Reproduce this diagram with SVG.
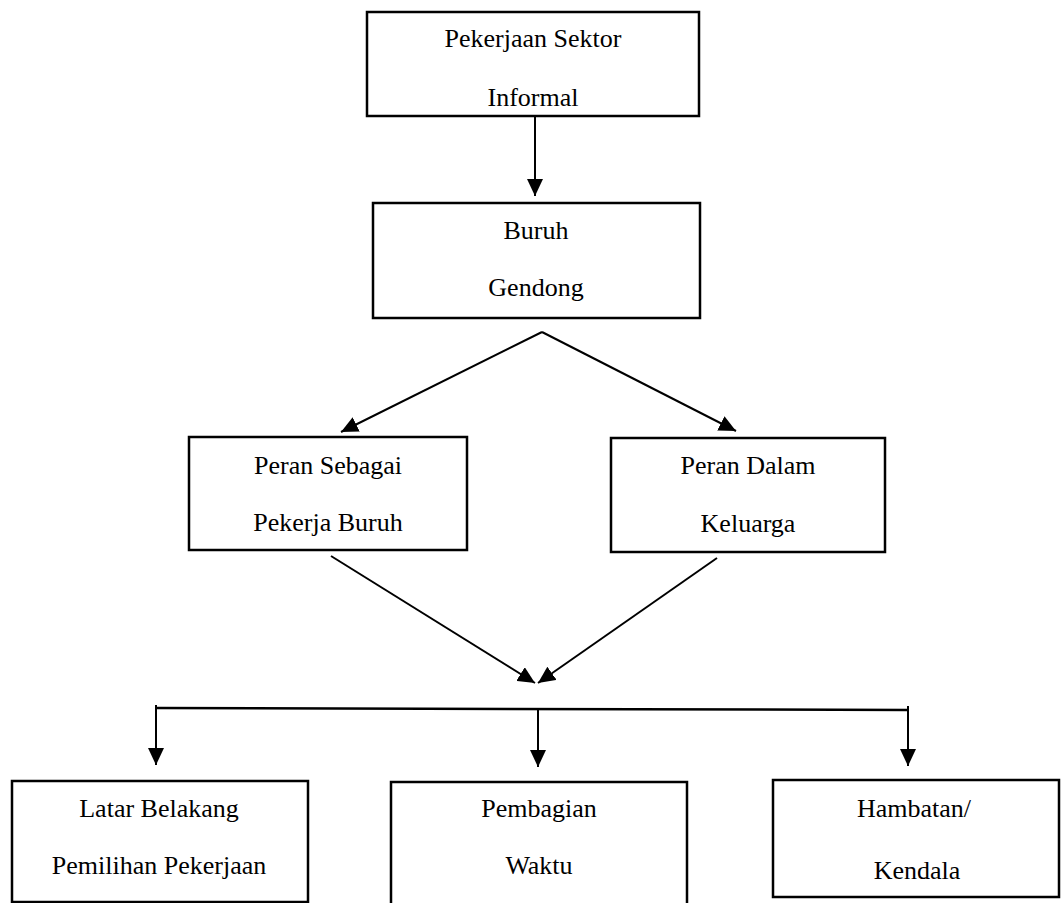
<svg xmlns="http://www.w3.org/2000/svg" width="1062" height="903" viewBox="0 0 1062 903">
<defs>
<style>
.box{fill:#fff;stroke:#000;stroke-width:2.5}
.t{font-family:"Liberation Serif","Times New Roman",serif;font-size:26px;fill:#000;text-anchor:middle}
.c{stroke:#000;stroke-width:2;fill:none}
</style>
<marker id="ah" markerUnits="userSpaceOnUse" markerWidth="18" markerHeight="16" refX="17" refY="8" orient="auto">
<path d="M0,0 L17,8 L0,16 z" fill="#000"/>
</marker>
</defs>
<rect width="1062" height="903" fill="#fff"/>
<g id="connectors">
<line class="c" x1="535" y1="117" x2="535" y2="196" marker-end="url(#ah)"/>
<line class="c" x1="542" y1="332" x2="341" y2="432" marker-end="url(#ah)"/>
<line class="c" x1="542" y1="332" x2="736" y2="431" marker-end="url(#ah)"/>
<line class="c" x1="331" y1="556" x2="535" y2="683" marker-end="url(#ah)"/>
<line class="c" x1="717" y1="558" x2="538" y2="683" marker-end="url(#ah)"/>
<polyline class="c" points="157,708 908,710" style="stroke-width:2.5"/>
<line class="c" x1="156" y1="705" x2="156" y2="765" marker-end="url(#ah)"/>
<line class="c" x1="538" y1="708" x2="538" y2="767" marker-end="url(#ah)"/>
<line class="c" x1="908" y1="706" x2="908" y2="766" marker-end="url(#ah)"/>
</g>
<g id="n1"><rect class="box" x="367" y="12" width="332" height="104"/>
<text class="t" x="533" y="47">Pekerjaan Sektor</text><text class="t" x="533" y="106">Informal</text></g>
<g id="n2"><rect class="box" x="373" y="203" width="327" height="115"/>
<text class="t" x="536" y="239">Buruh</text><text class="t" x="536" y="296">Gendong</text></g>
<g id="n3"><rect class="box" x="189" y="437" width="278" height="113"/>
<text class="t" x="328" y="474">Peran Sebagai</text><text class="t" x="328" y="531">Pekerja Buruh</text></g>
<g id="n4"><rect class="box" x="611" y="438" width="274" height="114"/>
<text class="t" x="748" y="474">Peran Dalam</text><text class="t" x="748" y="532">Keluarga</text></g>
<g id="n5"><rect class="box" x="12" y="781" width="296" height="121"/>
<text class="t" x="159" y="817">Latar Belakang</text><text class="t" x="159" y="874">Pemilihan Pekerjaan</text></g>
<g id="n6"><rect class="box" x="391" y="782" width="296" height="124"/>
<text class="t" x="539" y="817">Pembagian</text><text class="t" x="539" y="874">Waktu</text></g>
<g id="n7"><rect class="box" x="773" y="780" width="286" height="117"/>
<text class="t" x="914" y="817">Hambatan/</text><text class="t" x="917" y="879">Kendala</text></g>
</svg>
